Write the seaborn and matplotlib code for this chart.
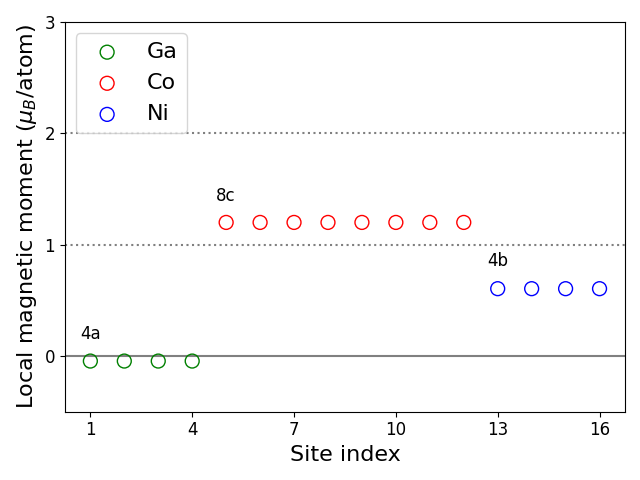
import matplotlib
matplotlib.use("Agg")
import matplotlib.pyplot as plt
import seaborn as sns
import pandas as pd

ga_sites = [1, 2, 3, 4]
ga_moments = [-0.045, -0.045, -0.045, -0.045]
co_sites = [5, 6, 7, 8, 9, 10, 11, 12]
co_moments = [1.2, 1.2, 1.2, 1.2, 1.2, 1.2, 1.2, 1.2]
ni_sites = [13, 14, 15, 16]
ni_moments = [0.605, 0.605, 0.605, 0.605]

elements = ["Ga", "Co", "Ni"]
colors = ["green", "red", "blue"]
site_labels = ["4a", "8c", "4b"]
label_pos = [(1, 0.2), (5, 1.44), (13, 0.85)]
xticks = [1, 4, 7, 10, 13, 16]
yticks = [0, 1, 2, 3]

fig, ax = plt.subplots(figsize=(6.4, 4.8), dpi=100)
ax.axhline(0, color="gray", lw=1.5, zorder=0)
ax.axhline(1, color="gray", ls=":", lw=1.5, zorder=0)
ax.axhline(2, color="gray", ls=":", lw=1.5, zorder=0)

for name, col, xs, ys in zip(elements, colors, [ga_sites, co_sites, ni_sites],
                             [ga_moments, co_moments, ni_moments]):
    df = pd.DataFrame({"site": xs, "m": ys})
    sns.scatterplot(data=df, x="site", y="m", ax=ax, s=100, marker="o",
                    facecolors="none", edgecolors=col, linewidth=1, label=name)

for t, (x, y) in zip(site_labels, label_pos):
    ax.text(x, y, t, fontsize=12, ha="center", va="center")

ax.set_xticks(xticks)
ax.set_yticks(yticks)
ax.set_ylim(-0.5, 3)
ax.tick_params(labelsize=12)
ax.set_xlabel("Site index", fontsize=16)
ax.set_ylabel(r"Local magnetic moment ($\mu_B$/atom)", fontsize=16)
ax.legend(fontsize=16, loc="upper left")
fig.tight_layout()
fig.savefig("out.png", dpi=100)
